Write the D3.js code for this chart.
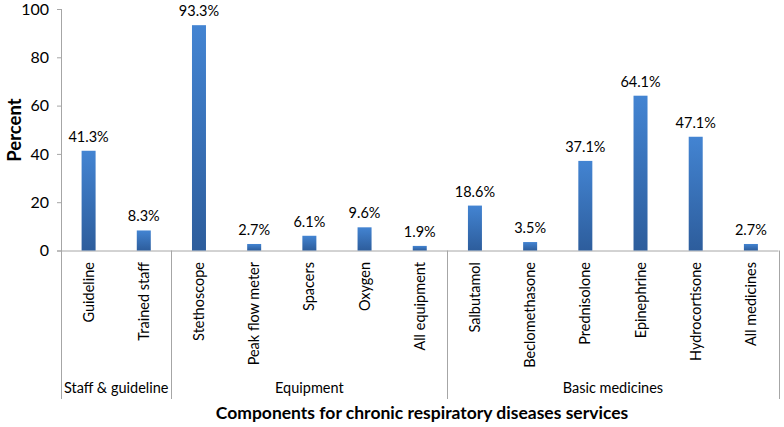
<!DOCTYPE html>
<html><head><meta charset="utf-8">
<script src="https://cdn.jsdelivr.net/npm/d3@7"></script>
<style>body{margin:0;background:#fff}svg{display:block;font-family:Lato,"Open Sans",sans-serif}</style>
</head><body><svg id="c" width="784" height="427"></svg>
<script>
const categories = ["Guideline","Trained staff","Stethoscope","Peak flow meter","Spacers","Oxygen","All equipment","Salbutamol","Beclomethasone","Prednisolone","Epinephrine","Hydrocortisone","All medicines"];
const values = [41.3, 8.3, 93.3, 2.7, 6.1, 9.6, 1.9, 18.6, 3.5, 37.1, 64.1, 47.1, 2.7];
const groups = ["Staff & guideline","Equipment","Basic medicines"];
const groupSizes = [2, 5, 6];
const yTicks = [0, 20, 40, 60, 80, 100];

const svg = d3.select("#c");
const L = 61, R = 778.5, T = 9, B = 250.5, BOT = 399;
const x = d3.scaleBand().domain(categories).range([L, R]).paddingInner(0).paddingOuter(0);
const y = d3.scaleLinear().domain([0, 100]).range([B, T]);
const barW = 14;

const defs = svg.append("defs");
const g = defs.append("linearGradient").attr("id","bg").attr("x1",0).attr("y1",0).attr("x2",0).attr("y2",1);
g.append("stop").attr("offset","0%").attr("stop-color","#4384d2");
g.append("stop").attr("offset","100%").attr("stop-color","#2d5d9c");

// y axis
const ya = svg.append("g").attr("transform",`translate(${L},0)`)
  .call(d3.axisLeft(y).tickValues(yTicks).tickSize(4).tickPadding(8));
ya.select(".domain").remove();
ya.selectAll(".tick line").attr("stroke","#a6a6a6");
ya.selectAll(".tick text").attr("font-size",16).attr("fill","#000").attr("font-family","Lato");
svg.append("line").attr("x1",L+0.5).attr("x2",L+0.5).attr("y1",T).attr("y2",BOT).attr("stroke","#a6a6a6");

// x axis line
svg.append("line").attr("x1",L-4).attr("x2",R).attr("y1",B+0.5).attr("y2",B+0.5).attr("stroke","#a6a6a6");

// group separators
let cum = 0;
groupSizes.forEach((n, i) => {
  const start = x(categories[cum]);
  cum += n;
  const end = cum < categories.length ? x(categories[cum]) : R;
  svg.append("line").attr("x1",Math.round(end)+0.5).attr("x2",Math.round(end)+0.5)
    .attr("y1",B).attr("y2",BOT).attr("stroke","#a6a6a6");
  svg.append("text").attr("x",(start+end)/2).attr("y",393).attr("text-anchor","middle")
    .attr("font-size",14.5).attr("fill","#000").text(groups[i]);
});

// bars
svg.selectAll("rect.bar").data(values).join("rect").attr("class","bar")
  .attr("x",(d,i)=>x(categories[i])+x.bandwidth()/2-barW/2)
  .attr("y",d=>y(d)).attr("width",barW).attr("height",d=>B-y(d))
  .attr("fill","url(#bg)");

// value labels
svg.selectAll("text.val").data(values).join("text").attr("class","val")
  .attr("x",(d,i)=>x(categories[i])+x.bandwidth()/2)
  .attr("y",d=>y(d)-9).attr("text-anchor","middle").attr("font-size",14.5).attr("fill","#000")
  .text(d=>d.toFixed(1)+"%");

// category labels
svg.selectAll("text.cat").data(categories).join("text").attr("class","cat")
  .attr("transform",d=>`translate(${x(d)+x.bandwidth()/2+5},262) rotate(-90)`)
  .attr("text-anchor","end").attr("font-size",14.5).attr("fill","#000").text(d=>d);

// titles
svg.append("text").attr("transform","translate(21,130) rotate(-90)").attr("text-anchor","middle")
  .attr("font-size",18.5).attr("font-weight","bold").text("Percent");
svg.append("text").attr("x",422).attr("y",419).attr("text-anchor","middle")
  .attr("font-size",17.5).attr("font-weight","bold").text("Components for chronic respiratory diseases services");
</script></body></html>
